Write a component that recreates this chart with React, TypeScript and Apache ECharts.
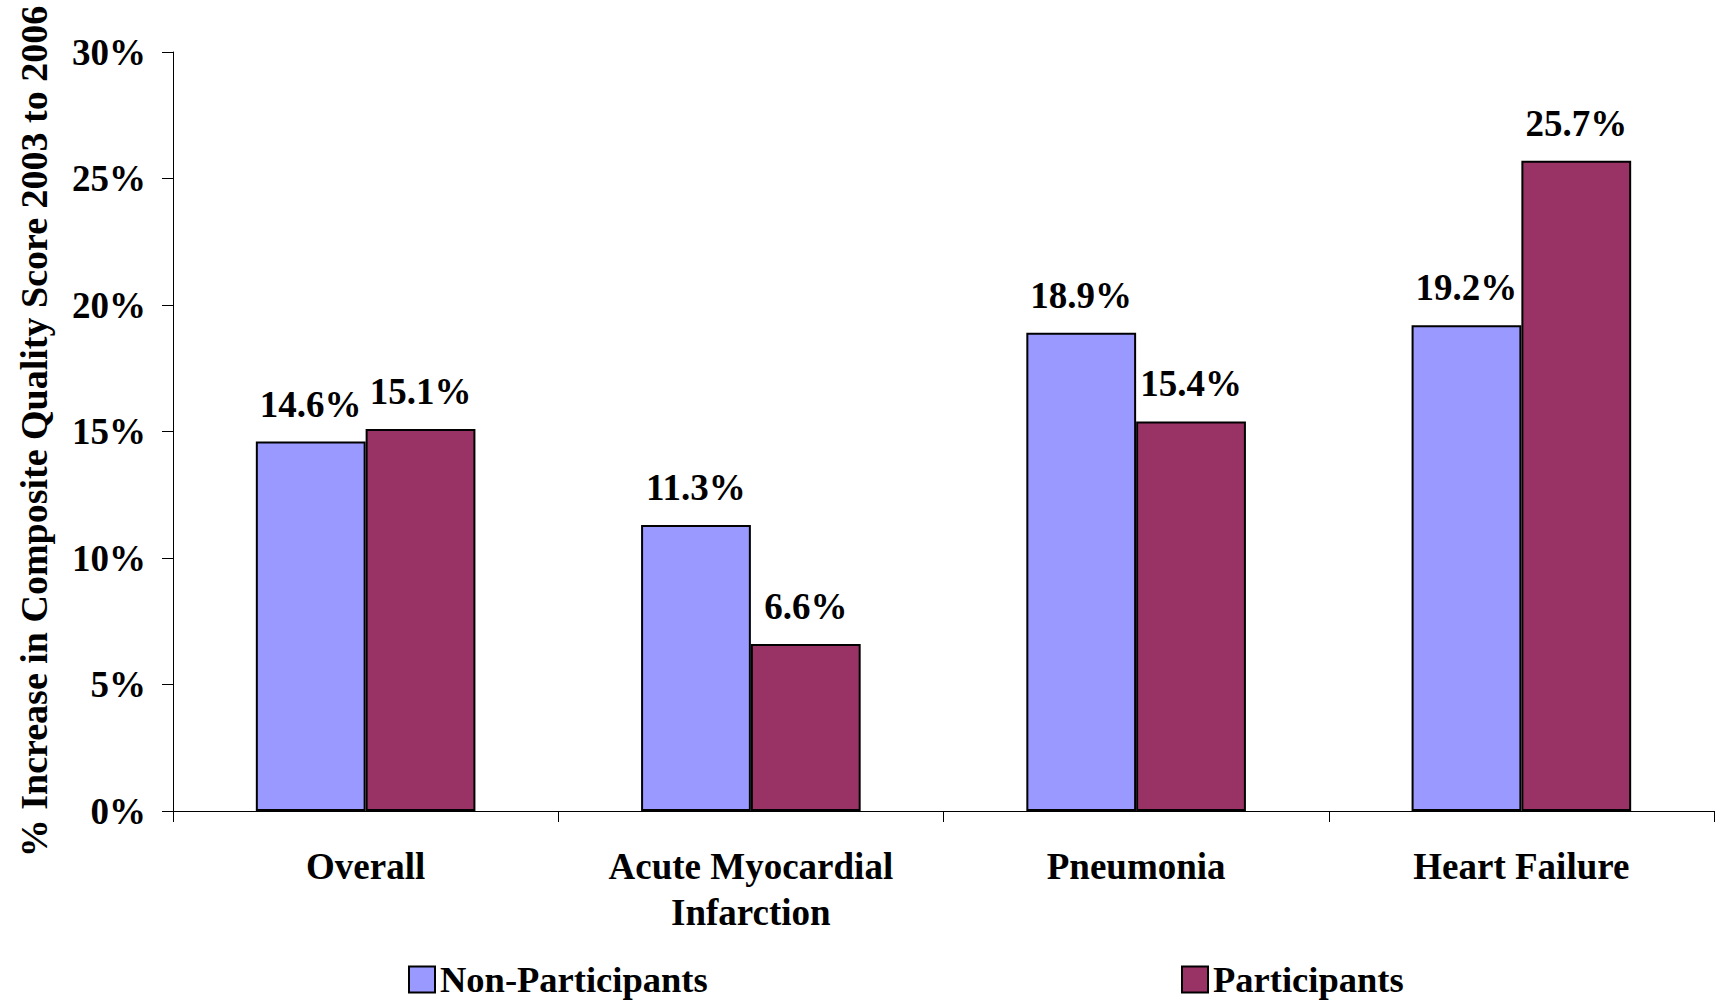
import React, { useEffect, useRef } from "react";
import * as echarts from "echarts";

const categories = ["Overall", "Acute Myocardial\nInfarction", "Pneumonia", "Heart Failure"];
const nonParticipants = [14.6, 11.3, 18.9, 19.2];
const participants = [15.1, 6.6, 15.4, 25.7];
const seriesNames = ["Non-Participants", "Participants"];
const axisTitle = "% Increase in Composite Quality Score 2003 to 2006";

const FONT = "'Liberation Serif', 'Times New Roman', serif";
const FS = 37;

export default function App() {
  const ref = useRef<HTMLDivElement>(null);

  useEffect(() => {
    document.body.style.margin = "0";
    const chart = echarts.init(ref.current!, undefined, { renderer: "svg" });
    const label = {
      show: true,
      position: "top",
      distance: 19,
      fontFamily: FONT,
      fontWeight: "bold",
      fontSize: FS,
      color: "#000",
      formatter: (p: any) => p.value.toFixed(1) + "%",
    };
    const legendText = {
      fontFamily: FONT,
      fontWeight: "bold",
      fontSize: 36.5,
      lineHeight: 28,
      color: "#000",
    };
    const legendBase = {
      top: 961,
      padding: 0,
      itemWidth: 26,
      itemHeight: 26,
      icon: "rect",
      textStyle: legendText,
      selectedMode: false,
    };
    chart.setOption({
      animation: false,
      backgroundColor: "#fff",
      grid: { left: 173, right: 4, top: 52, bottom: 190, containLabel: false },
      legend: [
        { ...legendBase, data: [seriesNames[0]], left: 408 },
        { ...legendBase, data: [seriesNames[1]], left: 1181 },
      ],
      xAxis: {
        type: "category",
        data: categories,
        axisLine: { lineStyle: { color: "#000", width: 1 } },
        axisTick: { show: true, length: 11, lineStyle: { color: "#000" } },
        axisLabel: {
          margin: 32,
          fontFamily: FONT,
          fontWeight: "bold",
          fontSize: FS,
          lineHeight: 46,
          color: "#000",
          interval: 0,
        },
      },
      yAxis: {
        type: "value",
        min: 0,
        max: 30,
        interval: 5,
        name: axisTitle,
        nameLocation: "middle",
        nameGap: 120,
        nameTextStyle: { fontFamily: FONT, fontWeight: "bold", fontSize: 38, color: "#000" },
        splitLine: { show: false },
        axisLine: { show: true, lineStyle: { color: "#000", width: 1 } },
        axisTick: { show: true, length: 11, lineStyle: { color: "#000" } },
        axisLabel: {
          margin: 27,
          fontFamily: FONT,
          fontWeight: "bold",
          fontSize: FS,
          color: "#000",
          formatter: "{value}%",
        },
      },
      series: [
        {
          name: seriesNames[0],
          type: "bar",
          data: nonParticipants,
          barGap: "0%",
          barCategoryGap: "43%",
          itemStyle: { color: "#9999FF", borderColor: "#000", borderWidth: 2 },
          label,
        },
        {
          name: seriesNames[1],
          type: "bar",
          data: participants,
          itemStyle: { color: "#993366", borderColor: "#000", borderWidth: 2 },
          label,
        },
      ],
    });
    return () => chart.dispose();
  }, []);

  return <div ref={ref} style={{ width: 1718, height: 1001 }} />;
}
